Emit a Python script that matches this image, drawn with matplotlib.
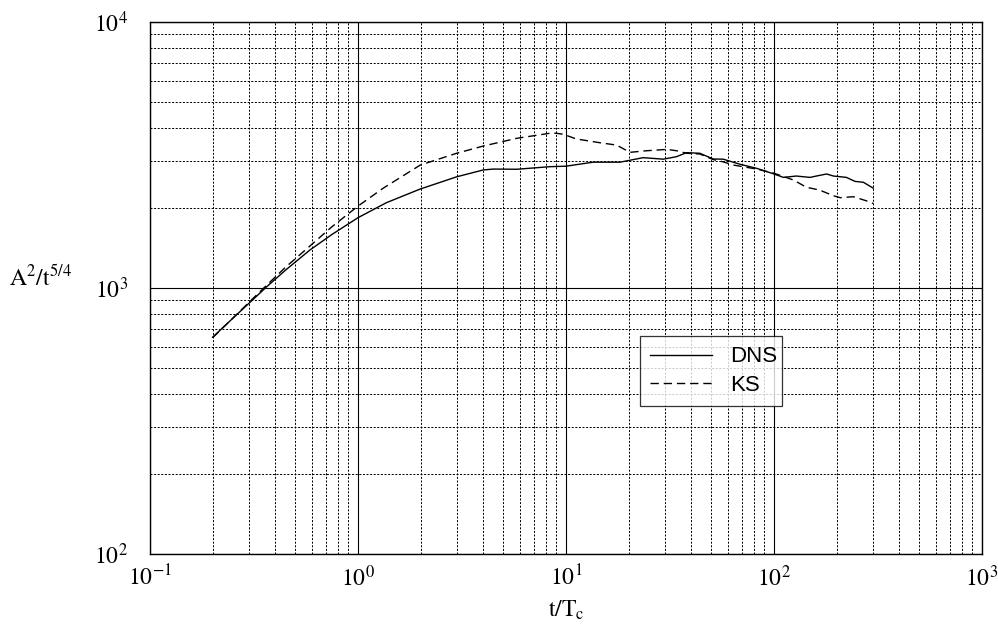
import math
import matplotlib
matplotlib.use("Agg")
import matplotlib.pyplot as plt
from matplotlib.ticker import LogLocator, FixedLocator, FuncFormatter, NullFormatter

plt.rcParams['mathtext.fontset'] = 'stix'
plt.rcParams['font.family'] = ['Liberation Serif', 'DejaVu Serif']

# Data
dns_t = [0.2, 0.25, 0.3, 0.364, 0.45, 0.587, 0.75, 1.0, 1.37, 1.99, 2.98, 4.0, 4.47,
         5.8, 8.37, 10, 13.5, 18.2, 23.5, 29.4, 34, 38, 44, 51, 57, 68.7, 82.6, 100,
         111, 128, 149, 160, 179, 193, 223, 245, 269, 300]
dns_a = [653, 769, 878, 1011, 1170, 1389, 1590, 1838, 2093, 2355, 2618, 2778, 2800,
         2795, 2858, 2870, 2972, 2972, 3090, 3050, 3117, 3227, 3210, 3055, 3050, 2918,
         2817, 2683, 2605, 2636, 2605, 2636, 2683, 2636, 2605, 2517, 2497, 2373]

ks_t = [0.2, 0.25, 0.3, 0.364, 0.45, 0.587, 0.75, 1.0, 1.32, 1.99, 2.98, 4.0, 5.8,
        8.37, 8.96, 9.7, 11.2, 14.5, 17.5, 20.3, 24.4, 30.5, 34, 38, 44, 51, 57, 63.7,
        82.6, 100, 124, 143, 166, 193, 208, 241, 279, 300]
ks_a = [650, 770, 885, 1025, 1200, 1438, 1700, 2032, 2371, 2897, 3210, 3417, 3654,
        3817, 3817, 3785, 3634, 3518, 3446, 3236, 3281, 3320, 3281, 3210, 3190, 3040,
        2980, 2899, 2800, 2700, 2547, 2393, 2333, 2223, 2185, 2204, 2125, 2080]

x_major = [0.1, 1, 10, 100, 1000]
y_major = [100, 1000, 10000]

fig = plt.figure(figsize=(9.98, 6.30), dpi=100)
ax = fig.add_axes([150/998, 1-554/630, (982-150)/998, (554-22)/630])

ax.set_xscale('log')
ax.set_yscale('log')
ax.set_xlim(0.1, 1000)
ax.set_ylim(100, 10000)

ax.plot(dns_t, dns_a, color='black', lw=1.0, label='DNS')
ax.plot(ks_t, ks_a, color='black', lw=1.0, dashes=(6.0, 3.5), label='KS')

ax.xaxis.set_major_locator(FixedLocator(x_major))
ax.yaxis.set_major_locator(FixedLocator(y_major))
ax.xaxis.set_minor_locator(LogLocator(base=10, subs=range(2, 10), numticks=20))
ax.yaxis.set_minor_locator(LogLocator(base=10, subs=range(2, 10), numticks=20))
ax.xaxis.set_minor_formatter(NullFormatter())
ax.yaxis.set_minor_formatter(NullFormatter())

def fmt(v, pos):
    e = int(round(math.log10(v)))
    return r'$10^{%d}$' % e

ax.xaxis.set_major_formatter(FuncFormatter(fmt))
ax.yaxis.set_major_formatter(FuncFormatter(fmt))

ax.grid(which='major', color='black', linestyle='-', linewidth=0.8)
ax.grid(which='minor', color='black', linestyle=(0, (2.0, 1.6)), linewidth=0.72)

ax.tick_params(which='both', direction='in', top=True, right=True, length=0)
ax.tick_params(axis='x', which='major', labelsize=17, pad=8)
ax.tick_params(axis='y', which='major', labelsize=17, pad=16)
for s in ax.spines.values():
    s.set_linewidth(1.0)
    s.set_color('black')

ax.set_xlabel(r'$\mathrm{t/T_c}$', fontsize=17, labelpad=6)
ax.set_ylabel(r'$\mathrm{A^2/t^{5/4}}$', fontsize=17, rotation=0, va='center')
ax.yaxis.set_label_coords(-0.131, 0.52)

leg = ax.legend(loc='lower left', bbox_to_anchor=(0.589, 0.278, 0.171, 0.143),
                mode='expand', frameon=True, fancybox=False, edgecolor='black',
                prop={'family': 'Liberation Sans', 'size': 16}, handlelength=2.8,
                borderaxespad=0, borderpad=0.45, labelspacing=0.35, handletextpad=0.8)
leg.get_frame().set_linewidth(0.9)

fig.savefig('out.png', dpi=100, facecolor='white')
